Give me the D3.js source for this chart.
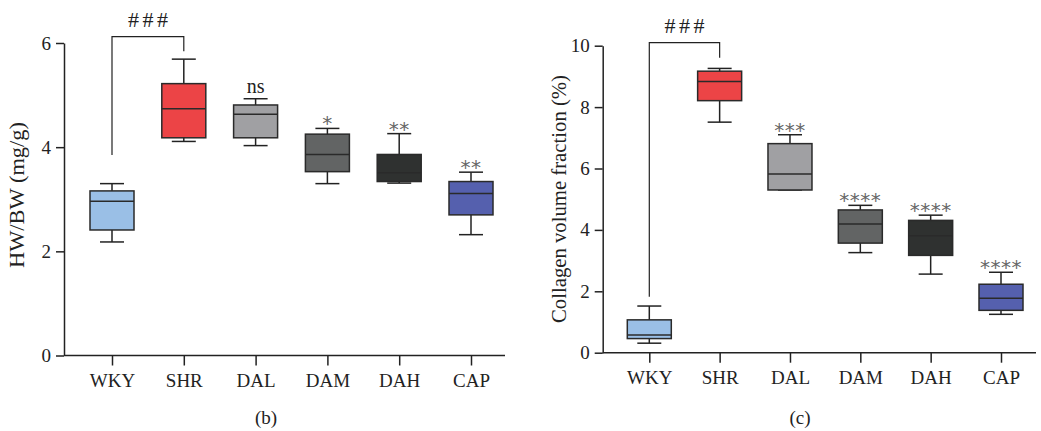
<!DOCTYPE html>
<html lang="en">
  <head>
    <meta charset="utf-8">
    <title>Box plots</title>
    <script src="https://d3js.org/d3.v7.js"></script>
    <style>
      body { margin: 0; background: #fff; }
      text { font-family: "Liberation Serif", "Times New Roman", serif; fill: #222; }
    </style>
  </head>
  <body>
  <script>

  var groups = ["WKY", "SHR", "DAL", "DAM", "DAH", "CAP"];
  var colors = ["#9abfe6", "#ec4446", "#a0a0a3", "#626464", "#2f3130", "#5560ae"];

  // HW/BW (mg/g): [whisker low, q1, median, q3, whisker high]
  var hwbw = [
    [2.18, 2.41, 2.96, 3.16, 3.30],
    [4.11, 4.18, 4.74, 5.22, 5.69],
    [4.03, 4.18, 4.63, 4.81, 4.93],
    [3.30, 3.53, 3.86, 4.25, 4.36],
    [3.31, 3.34, 3.51, 3.86, 4.26],
    [2.32, 2.70, 3.11, 3.34, 3.52]
  ];
  var hwbwMarks = ["", "", "ns", "*", "**", "**"];
  var hwbwTicks = [0, 2, 4, 6];

  // collagen volume fraction (%)
  var cvf = [
    [0.31, 0.46, 0.58, 1.07, 1.52],
    [7.51, 8.21, 8.83, 9.17, 9.26],
    [5.30, 5.30, 5.82, 6.81, 7.10],
    [3.26, 3.57, 4.19, 4.65, 4.80],
    [2.56, 3.17, 3.81, 4.31, 4.48],
    [1.25, 1.38, 1.77, 2.23, 2.62]
  ];
  var cvfMarks = ["", "", "***", "****", "****", "****"];
  var cvfTicks = [0, 2, 4, 6, 8, 10];

  var svg = d3.select("body")
    .append("svg")
      .attr("width", 1041)
      .attr("height", 431);

  function drawPanel(cfg) {
    var yScale = d3.scaleLinear()
        .domain([0, cfg.ymax])
        .range([cfg.y0, cfg.y1]);
    var xScale = d3.scalePoint()
        .domain(groups)
        .range([cfg.x0, cfg.x1]);

    var g = svg.append("g");

    // y axis
    var yAxis = d3.axisLeft(yScale)
        .tickValues(cfg.ticks)
        .tickFormat(d3.format("d"))
        .tickSize(8)
        .tickSizeOuter(0)
        .tickPadding(5);
    var ya = g.append("g")
        .attr("transform", `translate(${cfg.ax}, 0)`)
        .call(yAxis);
    ya.selectAll("path, line").attr("stroke", "#222").attr("stroke-width", 1.5);
    ya.selectAll("text").style("font-size", "19px").attr("fill", "#222")
        .style("font-family", "Liberation Serif, serif");

    // x axis
    var xAxis = d3.axisBottom(xScale)
        .tickSize(10)
        .tickSizeOuter(0)
        .tickPadding(8);
    var xa = g.append("g")
        .attr("transform", `translate(0, ${cfg.y0})`)
        .call(xAxis);
    xa.select(".domain").remove();
    xa.append("line")
        .attr("x1", cfg.ax).attr("x2", cfg.axEnd)
        .attr("y1", 0).attr("y2", 0)
        .attr("stroke", "#222").attr("stroke-width", 1.5);
    xa.selectAll("line").attr("stroke", "#222").attr("stroke-width", 1.5);
    xa.selectAll("text").style("font-size", "19px").attr("fill", "#222")
        .style("font-family", "Liberation Serif, serif");

    // y label
    g.append("text")
        .attr("transform", `translate(${cfg.labelX}, ${cfg.labelY}) rotate(-90)`)
        .attr("text-anchor", "middle")
        .attr("textLength", cfg.labelLen)
        .attr("lengthAdjust", "spacingAndGlyphs")
        .style("font-size", "20px")
        .text(cfg.label);

    // panel letter
    g.append("text")
        .attr("x", cfg.letterX).attr("y", 424)
        .attr("text-anchor", "middle")
        .style("font-size", "19px")
        .text(cfg.letter);

    var bw = 44, cw = 24;
    var boxes = g.selectAll(".box")
        .data(cfg.data)
      .enter().append("g");

    boxes.append("line")
        .attr("x1", (d, i) => xScale(groups[i])).attr("x2", (d, i) => xScale(groups[i]))
        .attr("y1", d => yScale(d[0])).attr("y2", d => yScale(d[4]))
        .attr("stroke", "#222").attr("stroke-width", 1.5);
    boxes.append("line")
        .attr("x1", (d, i) => xScale(groups[i]) - cw / 2).attr("x2", (d, i) => xScale(groups[i]) + cw / 2)
        .attr("y1", d => yScale(d[0])).attr("y2", d => yScale(d[0]))
        .attr("stroke", "#222").attr("stroke-width", 1.5);
    boxes.append("line")
        .attr("x1", (d, i) => xScale(groups[i]) - cw / 2).attr("x2", (d, i) => xScale(groups[i]) + cw / 2)
        .attr("y1", d => yScale(d[4])).attr("y2", d => yScale(d[4]))
        .attr("stroke", "#222").attr("stroke-width", 1.5);
    boxes.append("rect")
        .attr("x", (d, i) => xScale(groups[i]) - bw / 2)
        .attr("y", d => yScale(d[3]))
        .attr("width", bw)
        .attr("height", d => yScale(d[1]) - yScale(d[3]))
        .attr("fill", (d, i) => colors[i])
        .attr("stroke", "#2a2a2a").attr("stroke-width", 1.5);
    boxes.append("line")
        .attr("x1", (d, i) => xScale(groups[i]) - bw / 2).attr("x2", (d, i) => xScale(groups[i]) + bw / 2)
        .attr("y1", d => yScale(d[2])).attr("y2", d => yScale(d[2]))
        .attr("stroke", "#2a2a2a").attr("stroke-width", 1.5);

    // significance marks
    boxes.append("text")
        .attr("x", (d, i) => xScale(groups[i]))
        .attr("y", (d, i) => yScale(d[4]) - (cfg.marks[i] == "ns" ? 6 : -2))
        .attr("text-anchor", "middle")
        .style("font-size", (d, i) => cfg.marks[i] == "ns" ? "20px" : "20px")
        .style("letter-spacing", (d, i) => cfg.marks[i] == "ns" ? "0px" : "0.5px")
        .style("fill", (d, i) => cfg.marks[i] == "ns" ? "#222" : "#666")
        .style("font-family", (d, i) => cfg.marks[i] == "ns" ? "Liberation Serif, serif" : "DejaVu Sans, sans-serif")
        .text((d, i) => cfg.marks[i]);

    // bracket WKY vs SHR
    var xa1 = xScale("WKY"), xa2 = xScale("SHR");
    g.append("path")
        .attr("d", `M${xa1},${yScale(cfg.data[0][4]) - cfg.leftGap} V${cfg.bracketY} H${xa2} V${yScale(cfg.data[1][4]) - cfg.rightGap}`)
        .attr("fill", "none").attr("stroke", "#222").attr("stroke-width", 1.2);
    g.append("text")
        .attr("x", (xa1 + xa2) / 2).attr("y", cfg.bracketY - 10)
        .attr("text-anchor", "middle")
        .attr("textLength", 40)
        .attr("lengthAdjust", "spacing")
        .style("font-size", "22px")
        .text("###");
  }

  drawPanel({
    data: hwbw, marks: hwbwMarks, ticks: hwbwTicks, ymax: 6,
    y0: 355.5, y1: 43, x0: 112, x1: 471, ax: 64, axEnd: 505,
    label: "HW/BW (mg/g)", labelX: 24, labelY: 195, labelLen: 146,
    letter: "(b)", letterX: 266,
    bracketY: 36.7, leftGap: 28.7, rightGap: 8
  });

  drawPanel({
    data: cvf, marks: cvfMarks, ticks: cvfTicks, ymax: 10,
    y0: 352.7, y1: 45.7, x0: 649.3, x1: 1001, ax: 602.7, axEnd: 1036,
    label: "Collagen volume fraction (%)", labelX: 566, labelY: 199, labelLen: 248,
    letter: "(c)", letterX: 800,
    bracketY: 42.7, leftGap: 9.3, rightGap: 10.6
  });

  </script>
  </body>
</html>
